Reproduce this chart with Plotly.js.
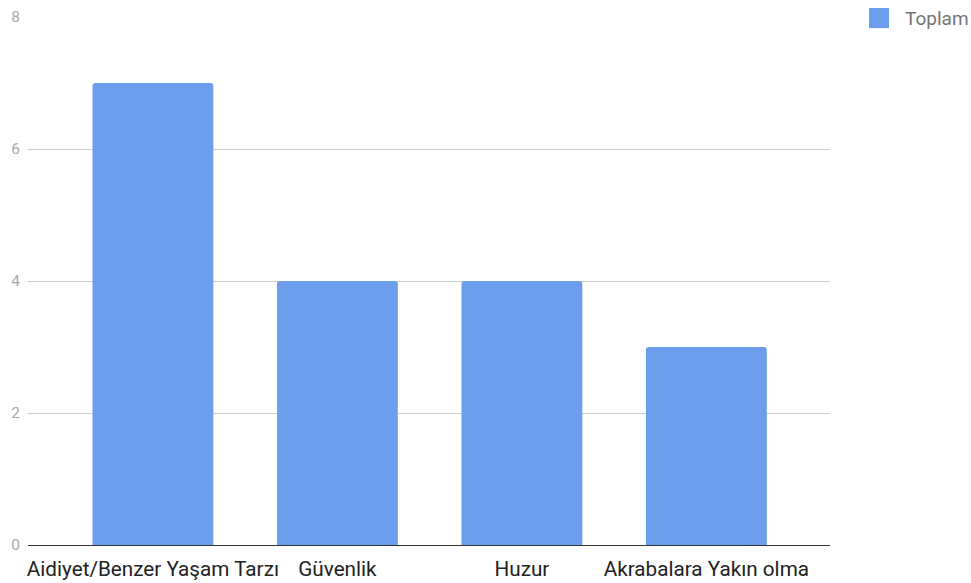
<!DOCTYPE html>
<html>
<head>
<meta charset="utf-8">
<script src="https://cdn.plot.ly/plotly-3.0.1.min.js"></script>
<style>html,body{margin:0;padding:0;background:#fff;}#chart{width:971px;height:583px;}</style>
</head>
<body>
<div id="chart"></div>
<script>
const categories = ["Aidiyet/Benzer Yaşam Tarzı", "Güvenlik", "Huzur", "Akrabalara Yakın olma"];
const toplamValues = [7, 4, 4, 3];
const seriesName = "Toplam";
const yTickValues = [0, 2, 4, 6, 8];
const yTickLabels = ["0", "2", "4", "6", "8"];
const barColor = "#6d9eeb";

const trace = {
  type: "bar",
  x: categories,
  y: toplamValues,
  name: seriesName,
  marker: {color: barColor, cornerradius: 3},
  width: 0.655,
  showlegend: false,
  hoverinfo: "x+y"
};

const layout = {
  width: 971,
  height: 583,
  margin: {l: 28, r: 141, t: 17, b: 38},
  paper_bgcolor: "#fff",
  plot_bgcolor: "#fff",
  font: {family: "Roboto, Arial, sans-serif"},
  showlegend: false,
  xaxis: {
    type: "category",
    range: [-0.677, 3.670],
    showgrid: false,
    showline: true,
    linecolor: "#333",
    linewidth: 1.3,
    ticks: "",
    ticklabelstandoff: 5,
    tickfont: {size: 20.7, color: "#222"},
    automargin: false
  },
  yaxis: {
    range: [0, 8],
    tickvals: yTickValues,
    ticktext: yTickLabels,
    showgrid: true,
    gridcolor: "#cccccc",
    gridwidth: 1,
    zeroline: false,
    showline: false,
    ticks: "",
    ticklabelstandoff: 7,
    tickfont: {size: 15.5, color: "#aaaaaa"},
    automargin: false
  },
  shapes: [{
    type: "rect",
    xref: "paper", yref: "paper",
    x0: 1.0486, x1: 1.0736, y0: 0.979, y1: 1.017,
    fillcolor: barColor,
    line: {width: 0}
  }],
  annotations: [{
    text: seriesName,
    xref: "paper", yref: "paper",
    x: 1.091, y: 0.998,
    xanchor: "left", yanchor: "middle",
    showarrow: false,
    font: {size: 19, color: "#757575"}
  }]
};

Plotly.newPlot("chart", [trace], layout, {displayModeBar: false, staticPlot: true});
</script>
</body>
</html>
